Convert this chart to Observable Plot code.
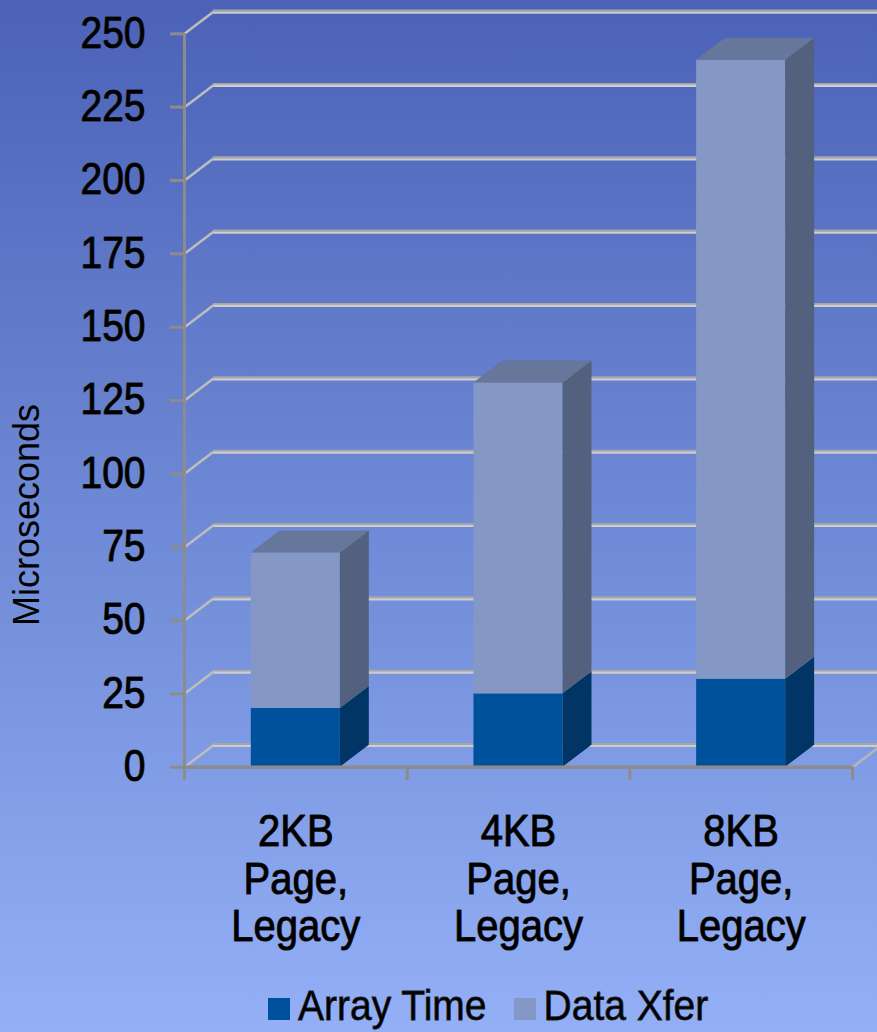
<!DOCTYPE html>
<html>
<head>
<meta charset="utf-8">
<script src="https://cdn.jsdelivr.net/npm/d3@7"></script>
<script src="https://cdn.jsdelivr.net/npm/@observablehq/plot@0.6"></script>
<style>
  html, body { margin: 0; padding: 0; }
  body {
    width: 877px; height: 1032px; overflow: hidden;
    background: linear-gradient(to bottom, #4b62b7 0%, #6e89d5 50%, #93b0f7 100%);
    font-family: "Liberation Sans", Arial, sans-serif;
  }
  #chart svg { display: block; }
  #legend {
    height: 72px; display: flex; align-items: flex-end; padding-left: 268px;
    box-sizing: border-box; padding-bottom: 6px;
  }
  .item { display: flex; align-items: center; margin-right: 27px; }
  .swatch { width: 22px; height: 22px; margin-right: 8px; margin-top: 6px; }
  .label { font-size: 39px; line-height: 40px; color: #000; -webkit-text-stroke: 0.7px #1c1c1c; transform: scaleY(1.08); }
</style>
</head>
<body>
<div id="chart"></div>
<div id="legend"></div>
<script>
// Page-size comparison, stacked: array time plus data transfer (µs)
const categories = ["2KB\nPage,\nLegacy", "4KB\nPage,\nLegacy", "8KB\nPage,\nLegacy"];
const series = ["Array Time", "Data Xfer"];
const arrayTime = [20, 25, 30];
const dataXfer = [53, 106, 211];
const yTicks = [0, 25, 50, 75, 100, 125, 150, 175, 200, 225, 250];
const yTitle = "Microseconds";

// face shading for the extruded columns
const frontFill = {"Array Time": "#00519b", "Data Xfer": "#8597c4"};
const sideFill = {"Array Time": "#003566", "Data Xfer": "#53617f"};
const topFill = "#66779b";

// depth of the box, expressed in scale units (x: categories, y: microseconds)
const depthX = 0.13;
const depthY = 7.5;
const half = 0.2; // half the column width, in category units

// stacked segments
const segments = [];
categories.forEach((c, i) => {
  segments.push({i, series: "Array Time", lo: 0, hi: arrayTime[i]});
  segments.push({i, series: "Data Xfer", lo: arrayTime[i], hi: arrayTime[i] + dataXfer[i]});
});

// right-hand side faces: two-point areas shifted back by the depth
const sides = segments.flatMap((s, k) => [
  {key: k, series: s.series, x: s.i + 0.5 + half, y1: s.lo, y2: s.hi},
  {key: k, series: s.series, x: s.i + 0.5 + half + depthX, y1: s.lo + depthY, y2: s.hi + depthY}
]);

// top faces of each column
const tops = categories.flatMap((c, i) => {
  const t = arrayTime[i] + dataXfer[i];
  return [
    {key: i, y: t, x1: i + 0.5 - half, x2: i + 0.5 + half},
    {key: i, y: t + depthY, x1: i + 0.5 - half + depthX, x2: i + 0.5 + half + depthX}
  ];
});

const textStyle = {fontFamily: "Liberation Sans, Arial, sans-serif", fill: "#000", stroke: "#1c1c1c", strokeWidth: 1};

const marks = [
  // back wall gridlines
  Plot.ruleY(yTicks, {y: d => d + depthY, x1: depthX, x2: 3.3, stroke: "#a6a6a6", strokeWidth: 2, dy: -1.2}),
  Plot.ruleY(yTicks, {y: d => d + depthY, x1: depthX, x2: 3.3, stroke: "#cdcdcd", strokeWidth: 2.2, dy: 0.8}),
  // side wall connectors
  Plot.link(yTicks, {x1: 0, y1: d => d, x2: depthX, y2: d => d + depthY, stroke: "#bdbdbd", strokeWidth: 2.5}),
  // floor right edge
  Plot.link([0], {x1: 3, y1: 0, x2: 3 + depthX, y2: depthY, stroke: "#b5b5b5", strokeWidth: 2.5}),
];

for (const s of series) {
  const seg = segments.filter(d => d.series === s);
  marks.push(Plot.rect(seg, {x1: d => d.i + 0.5 - half, x2: d => d.i + 0.5 + half, y1: "lo", y2: "hi", fill: frontFill[s]}));
  marks.push(Plot.areaY(sides.filter(d => d.series === s), {x: "x", y1: "y1", y2: "y2", z: "key", fill: sideFill[s]}));
}
marks.push(Plot.areaX(tops, {y: "y", x1: "x1", x2: "x2", z: "key", fill: topFill}));

marks.push(
  // front axes
  Plot.ruleX([0], {y1: 0, y2: 250, stroke: "#8c8c8c", strokeWidth: 3}),
  Plot.ruleY(yTicks, {x1: -0.063, x2: 0, stroke: "#8c8c8c", strokeWidth: 3}),
  Plot.ruleY([0], {x1: 0, x2: 3, stroke: "#8c8c8c", strokeWidth: 3.5}),
  Plot.ruleX([0, 1, 2, 3], {y1: 0, y2: -4.5, stroke: "#8c8c8c", strokeWidth: 3}),
  // tick labels
  Plot.text(yTicks, {x: 0, y: d => d, text: d => String(d), dx: -39, textAnchor: "end", fontSize: 39, ...textStyle}),
  Plot.text(categories, {x: (d, i) => i + 0.5, y: 0, text: d => d, dy: 111, fontSize: 40, lineHeight: 1.07, lineAnchor: "middle", ...textStyle}),
  // axis title
  Plot.text([yTitle], {x: 0, y: 86, text: d => d, dx: -157, rotate: -90, fontSize: 36, fill: "#000", fontFamily: "Liberation Sans, Arial, sans-serif"})
);

const chart = Plot.plot({
  width: 877,
  height: 960,
  marginLeft: 184,
  marginRight: 25,
  marginTop: 33.3,
  marginBottom: 193.3,
  x: {domain: [0, 3], axis: null},
  y: {domain: [0, 250], axis: null},
  style: {background: "transparent", overflow: "visible"},
  marks
});
document.getElementById("chart").appendChild(chart);

// the labels are set in a slightly tall face: stretch them vertically about their anchor
d3.select(chart).selectAll("text")
  .filter(function() { return this.textContent !== yTitle; })
  .each(function() {
    const t = this.getAttribute("transform");
    if (t) {
      this.setAttribute("transform", t + " scale(1,1.12)");
    } else {
      const x = +this.getAttribute("x") || 0, y = +this.getAttribute("y") || 0;
      this.removeAttribute("x"); this.removeAttribute("y");
      this.setAttribute("transform", `translate(${x},${y}) scale(1,1.12)`);
    }
  });

// legend below the plot
const legend = d3.select("#legend");
series.forEach(s => {
  const item = legend.append("div").attr("class", "item");
  item.append("div").attr("class", "swatch").style("background", frontFill[s]);
  item.append("div").attr("class", "label").text(s);
});
</script>
</body>
</html>
